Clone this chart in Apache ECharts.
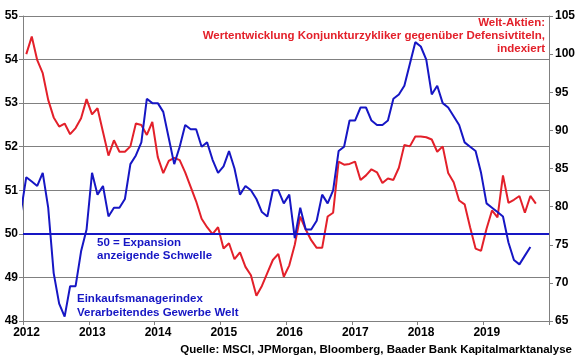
<!DOCTYPE html>
<html>
<head>
<meta charset="utf-8">
<script src="https://cdn.jsdelivr.net/npm/echarts@6/dist/echarts.min.js"></script>
<style>
html,body{margin:0;padding:0;background:#fff;}
#c{width:580px;height:359px;}
</style>
</head>
<body>
<div id="c"></div>
<script>
// Einkaufsmanagerindex Verarbeitendes Gewerbe Welt (monthly, from Dec 2011)
const pmiStart = [2011, 12];
const pmi = [50.5,
  51.3, 51.2, 51.1, 51.4, 50.6, 49.1, 48.4, 48.1, 48.8, 48.8, 49.6, 50.1,
  51.4, 50.9, 51.1, 50.4, 50.6, 50.6, 50.8, 51.6, 51.8, 52.1, 53.1, 53.0,
  53.0, 52.8, 52.2, 51.6, 52.0, 52.5, 52.4, 52.4, 52.0, 52.1, 51.7, 51.4,
  51.55, 51.9, 51.5, 50.9, 51.1, 51.0, 50.8, 50.5, 50.4, 51.0, 51.0, 50.7,
  50.9, 49.9, 50.6, 50.1, 50.1, 50.3, 50.9, 50.7, 51.0, 51.9, 52.0, 52.6,
  52.6, 52.9, 52.9, 52.6, 52.5, 52.5, 52.6, 53.1, 53.2, 53.4, 53.9, 54.4,
  54.3, 54.0, 53.2, 53.4, 53.0, 52.9, 52.7, 52.5, 52.1, 52.0, 51.9, 51.4,
  50.7, 50.6, 50.5, 50.4, 49.8, 49.4, 49.3, 49.5, 49.7];
// Welt-Aktien: Konjunkturzykliker vs. Defensivtitel, indexiert (monthly, from Jan 2012)
const stocksStart = [2012, 1];
const stocks = [
  100.0, 102.3, 99.2, 97.5, 94.0, 91.7, 90.5, 90.9, 89.5, 90.3, 91.6, 94.1,
  92.1, 92.9, 89.8, 86.7, 88.7, 87.2, 87.2, 87.9, 90.9, 90.7, 89.4, 91.1,
  86.5, 84.4, 86.0, 86.4, 86.1, 84.5, 82.6, 80.7, 78.4, 77.3, 76.4, 77.3,
  74.5, 75.2, 73.1, 74.0, 72.1, 71.0, 68.3, 69.6, 71.3, 73.0, 73.8, 70.8,
  72.3, 75.0, 78.7, 77.0, 75.6, 74.6, 74.6, 78.7, 79.2, 85.9, 85.5, 85.6,
  85.9, 83.5, 84.1, 84.9, 84.5, 83.1, 83.7, 83.5, 85.1, 88.1, 87.9, 89.2,
  89.2, 89.1, 88.8, 87.2, 87.9, 84.4, 83.2, 80.8, 80.3, 77.3, 74.5, 74.2,
  77.1, 79.5, 78.6, 84.1, 80.5, 80.9, 81.4, 79.2, 81.4, 80.4];
const yearTicks = [2012, 2013, 2014, 2015, 2016, 2017, 2018, 2019];
const threshold = 50;

const titleLines = ['Welt-Aktien:', 'Wertentwicklung Konjunkturzykliker gegenüber Defensivtiteln,', 'indexiert'];
const noteThreshold = ['50 = Expansion', 'anzeigende Schwelle'];
const notePmi = ['Einkaufsmanagerindex', 'Verarbeitendes Gewerbe Welt'];
const sourceText = 'Quelle: MSCI, JPMorgan, Bloomberg, Baader Bank Kapitalmarktanalyse';

function toPoints(start, vals) {
  return vals.map((v, i) => {
    const m = start[1] - 1 + i;
    return [start[0] + (m + 0.6) / 12, v];
  });
}

const FONT = "'Liberation Sans', Arial, sans-serif";
const RED = '#e3202a';
const BLUE = '#1616c4';
const GRID = '#808080';

const chart = echarts.init(document.getElementById('c'), null, {renderer: 'canvas'});

function textEl(x, y, txt, color, align) {
  return {
    type: 'text', left: undefined, x: x, y: y, z: 100,
    style: {text: txt, fill: color, font: 'bold 11.5px ' + FONT, textAlign: align, textVerticalAlign: 'middle'}
  };
}

chart.setOption({
  animation: false,
  grid: {left: 23, right: 31, top: 16, bottom: 38},
  xAxis: {
    type: 'value', min: 2012, max: 2020, interval: 1,
    axisLine: {lineStyle: {color: GRID, width: 1}},
    axisTick: {show: true, inside: false, length: 4, lineStyle: {color: GRID}},
    splitLine: {show: false},
    axisLabel: {
      margin: 6, color: '#000', fontFamily: FONT, fontWeight: 'bold', fontSize: 12,
      padding: [0, 0, 0, 7],
      formatter: v => (yearTicks.indexOf(v) >= 0 ? String(v) : '')
    }
  },
  yAxis: [{
    type: 'value', min: 48, max: 55, interval: 1, position: 'left',
    axisLine: {show: true, lineStyle: {color: GRID, width: 1}},
    axisTick: {show: true, length: 4, lineStyle: {color: GRID}},
    splitLine: {show: true, lineStyle: {color: GRID, width: 1}},
    axisLabel: {margin: 5, color: '#000', fontFamily: FONT, fontWeight: 'bold', fontSize: 12}
  }, {
    type: 'value', min: 65, max: 105, interval: 5, position: 'right',
    axisLine: {show: true, lineStyle: {color: GRID, width: 1}},
    axisTick: {show: true, length: 4, lineStyle: {color: GRID}},
    splitLine: {show: false},
    axisLabel: {margin: 6, color: '#000', fontFamily: FONT, fontWeight: 'bold', fontSize: 12}
  }],
  series: [{
    name: 'PMI', type: 'line', yAxisIndex: 0, data: toPoints(pmiStart, pmi),
    showSymbol: false, symbol: 'none', clip: true,
    lineStyle: {color: BLUE, width: 2}, z: 3,
    markLine: {
      silent: true, symbol: 'none', label: {show: false},
      lineStyle: {color: BLUE, width: 2, type: 'solid'},
      data: [{yAxis: threshold}]
    }
  }, {
    name: 'Zykliker/Defensive', type: 'line', yAxisIndex: 1, data: toPoints(stocksStart, stocks),
    showSymbol: false, symbol: 'none', clip: true,
    lineStyle: {color: RED, width: 2}, z: 2
  }],
  graphic: [
    textEl(545, 23, titleLines[0], RED, 'right'),
    textEl(545, 36, titleLines[1], RED, 'right'),
    textEl(545, 49, titleLines[2], RED, 'right'),
    textEl(97, 243, noteThreshold[0], BLUE, 'left'),
    textEl(97, 256, noteThreshold[1], BLUE, 'left'),
    textEl(77, 299, notePmi[0], BLUE, 'left'),
    textEl(77, 312.5, notePmi[1], BLUE, 'left'),
    textEl(572, 350, sourceText, '#000', 'right')
  ]
});
</script>
</body>
</html>
